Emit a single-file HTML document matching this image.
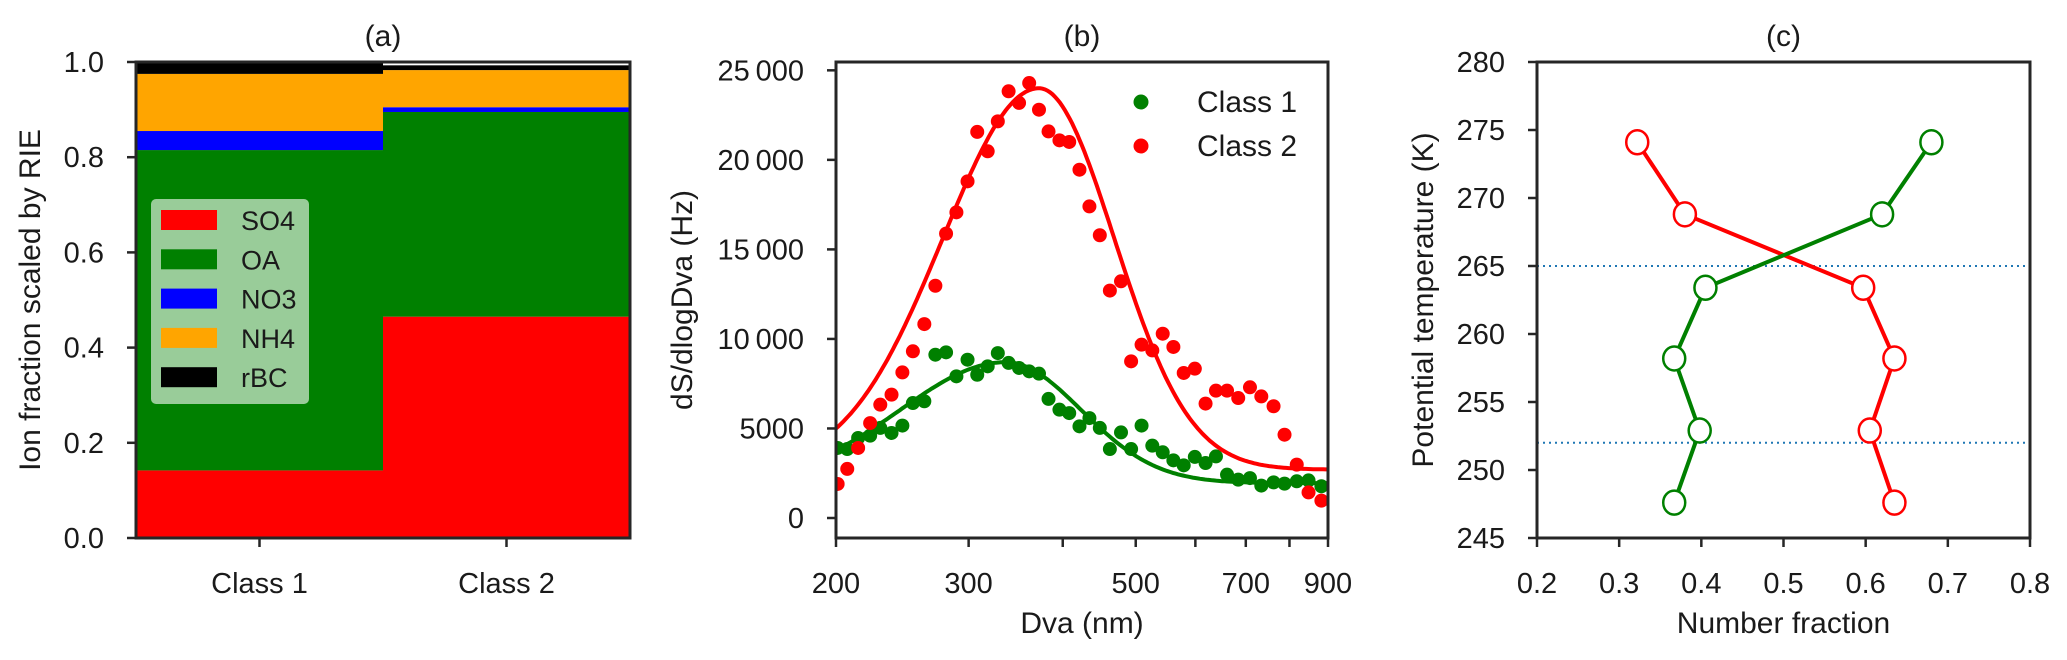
<!DOCTYPE html>
<html><head><meta charset="utf-8"><style>
html,body{margin:0;padding:0;background:#fff;}
svg{display:block;font-family:"Liberation Sans",sans-serif;}
</style></head><body>
<svg id="fig" width="2067" height="660" viewBox="0 0 2067 660" xmlns="http://www.w3.org/2000/svg">
<g id="pa"></g>
<g id="pb"></g>
<g id="pc"></g>
</svg>
<script>
// ---- Panel (a) data ----
const aClasses = ["Class 1", "Class 2"];
const aSpecies = ["SO4", "OA", "NO3", "NH4", "rBC"];
const aColors = ["#ff0000", "#008000", "#0000ff", "#ffa500", "#000000"];
const aSO4 = [0.142, 0.465];
const aOA = [0.673, 0.430];
const aNO3 = [0.040, 0.010];
const aNH4 = [0.120, 0.078];
const aRBC = [0.022, 0.010];
const aTicks = [0.0, 0.2, 0.4, 0.6, 0.8, 1.0];

// ---- Panel (b) data ----
const bDva = [201,207,214,222,229,237,245,253,262,271,280,289,299,308,318,328,339,350,361,372,383,396,408,421,434,448,462,478,493,509,526,543,561,579,599,619,639,661,684,709,734,762,788,818,848,882];
const bClass2 = [1900,2740,3910,5300,6330,6890,8130,9310,10830,12970,15880,17070,18800,21560,20480,22150,23830,23180,24290,22800,21590,21090,21000,19450,17400,15790,12700,13220,8750,9680,9360,10290,9550,8100,8340,6390,7110,7110,6700,7300,6790,6240,4650,2980,1430,970];
const bClass1 = [3910,3850,4470,4600,5030,4750,5160,6420,6520,9120,9250,7910,8840,8000,8470,9210,8660,8380,8190,8060,6650,6050,5860,5120,5580,5030,3850,4780,3850,5160,4040,3670,3220,2940,3410,3070,3440,2420,2140,2230,1810,1990,1920,2050,2100,1770];
// fitted log-normal-like curves: [peak amplitude, centre (nm), sigma left, sigma right, baseline]
const bFit2 = [21300, 372, 0.294, 0.23, 2700];
const bFit1 = [6750, 336, 0.322, 0.23, 1950];
const bYTicks = [0, 5000, 10000, 15000, 20000, 25000];
const bYTickLabels = ["0", "5000", "10\u2009000", "15\u2009000", "20\u2009000", "25\u2009000"];
const bXTicks = [200, 300, 400, 500, 600, 700, 800, 900];
const bXTickLabels = ["200", "300", "", "500", "", "700", "", "900"];

// ---- Panel (c) data ----
const cTheta = [274.1, 268.8, 263.4, 258.2, 252.9, 247.6];
const cRed = [0.322, 0.380, 0.597, 0.635, 0.605, 0.635];
const cGreen = [0.680, 0.620, 0.405, 0.367, 0.398, 0.367];
const cHLines = [265, 252];
const cXTicks = [0.2, 0.3, 0.4, 0.5, 0.6, 0.7, 0.8];
const cYTicks = [245, 250, 255, 260, 265, 270, 275, 280];

const NS = "http://www.w3.org/2000/svg";
function mk(parent, tag, attrs, text) {
  const e = document.createElementNS(NS, tag);
  for (const k in attrs) e.setAttribute(k, attrs[k]);
  if (text !== undefined) e.textContent = text;
  parent.appendChild(e);
  return e;
}
const AX = "#262626";
const FS = 29, TFS = 30;
const TICKY = 593, TITLEY = 633, HEADY = 46;

// ================= Panel A =================
(function(){
  const g = document.getElementById('pa');
  const L=136, R=630, T=62, B=538;
  const x = v => L + (v + 0.5) / 2 * (R - L);
  const y = v => B - v * (B - T);
  const stacks = [aSO4, aOA, aNO3, aNH4, aRBC];
  aClasses.forEach((c, i) => {
    let base = 0;
    stacks.forEach((arr, s) => {
      const r = mk(g, 'rect', {x: x(i - 0.5), y: y(base + arr[i]), width: x(i + 0.5) - x(i - 0.5), height: y(base) - y(base + arr[i]), fill: aColors[s]});
      
      
      base += arr[i];
    });
  });
  const fr = mk(g, 'rect', {x: L, y: T, width: R - L, height: B - T, fill: 'none', stroke: AX, 'stroke-width': 3});
  
  
  aTicks.forEach(t => {
    mk(g, 'line', {x1: L - 9, x2: L, y1: y(t), y2: y(t), stroke: AX, 'stroke-width': 2.5});
    const tx = mk(g, 'text', {x: 104, y: y(t) + 10, 'font-size': FS, 'text-anchor': 'end', fill: '#1a1a1a'}, t.toFixed(1));
    
    
  });
  aClasses.forEach((c, i) => {
    mk(g, 'line', {x1: x(i), x2: x(i), y1: B, y2: B + 9, stroke: AX, 'stroke-width': 2.5});
    const tx = mk(g, 'text', {x: x(i), y: TICKY, 'font-size': FS, 'text-anchor': 'middle', fill: '#1a1a1a'}, c);
    
    
  });
  const yl = mk(g, 'text', {x: 0, y: 0, transform: `translate(40,${(T + B) / 2}) rotate(-90)`, 'font-size': TFS, 'text-anchor': 'middle', fill: '#1a1a1a', 'xml:space': 'preserve'}, 'Ion  fraction scaled by RIE');
  
  
  const tt = mk(g, 'text', {x: (L + R) / 2, y: HEADY, 'font-size': TFS, 'text-anchor': 'middle', fill: '#1a1a1a'}, '(a)');
  
  
  const lg = mk(g, 'g', {});
  
  
  mk(lg, 'rect', {x: 151, y: 199, width: 158, height: 205, rx: 5, fill: '#99cc99'});
  aSpecies.forEach((s, k) => {
    const e = mk(lg, 'g', {});
    
    
    const yy = 210 + k * 39.3;
    mk(e, 'rect', {x: 161, y: yy, width: 56, height: 20, fill: aColors[k]});
    mk(e, 'text', {x: 241, y: yy + 20, 'font-size': 27, fill: '#1a1a1a'}, s);
  });
})();

// ================= Panel B =================
(function(){
  const g = document.getElementById('pb');
  const L=836, R=1328, T=62, B=538;
  const ymin = -1117, ymax = 25465;
  const x = v => L + Math.log(v / 200) / Math.log(900 / 200) * (R - L);
  const y = v => B - (v - ymin) / (ymax - ymin) * (B - T);
  const clip = mk(g, 'clipPath', {id: 'clipb'});
  mk(clip, 'rect', {x: L, y: T, width: R - L, height: B - T});
  const data = mk(g, 'g', {'clip-path': 'url(#clipb)'});
  function fitVal(p, d) {
    const l = Math.log(d / p[1]);
    const s = l < 0 ? p[2] : p[3];
    return p[4] + p[0] * Math.exp(-l * l / (2 * s * s));
  }
  function fitPath(p) {
    let dstr = '';
    for (let i = 0; i <= 200; i++) {
      const d = 200 * Math.pow(4.5, i / 200);
      dstr += (i ? 'L' : 'M') + x(d).toFixed(1) + ',' + y(fitVal(p, d)).toFixed(1);
    }
    return dstr;
  }
  bDva.forEach((d, i) => {
    const c = mk(data, 'circle', {cx: x(d), cy: y(bClass1[i]), r: 7, fill: '#008000'});
    
    
  });
  const f1 = mk(data, 'path', {d: fitPath(bFit1), fill: 'none', stroke: '#008000', 'stroke-width': 4});
  
  
  bDva.forEach((d, i) => {
    const c = mk(data, 'circle', {cx: x(d), cy: y(bClass2[i]), r: 7, fill: '#ff0000'});
    
    
  });
  const f2 = mk(data, 'path', {d: fitPath(bFit2), fill: 'none', stroke: '#ff0000', 'stroke-width': 4});
  
  
  const fr = mk(g, 'rect', {x: L, y: T, width: R - L, height: B - T, fill: 'none', stroke: AX, 'stroke-width': 3});
  
  
  bYTicks.forEach((t, i) => {
    mk(g, 'line', {x1: L - 9, x2: L, y1: y(t), y2: y(t), stroke: AX, 'stroke-width': 2.5});
    const tx = mk(g, 'text', {x: 804, y: y(t) + 10, 'font-size': FS, 'text-anchor': 'end', fill: '#1a1a1a'}, bYTickLabels[i]);
    
    
  });
  bXTicks.forEach((t, i) => {
    mk(g, 'line', {x1: x(t), x2: x(t), y1: B, y2: B + 9, stroke: AX, 'stroke-width': 2.5});
    if (bXTickLabels[i]) {
      const tx = mk(g, 'text', {x: x(t), y: TICKY, 'font-size': FS, 'text-anchor': 'middle', fill: '#1a1a1a'}, bXTickLabels[i]);
      
      
    }
  });
  const xl = mk(g, 'text', {x: (L + R) / 2, y: TITLEY, 'font-size': TFS, 'text-anchor': 'middle', fill: '#1a1a1a'}, 'Dva (nm)');
  
  
  const yl = mk(g, 'text', {x: 0, y: 0, transform: `translate(692,${(T + B) / 2}) rotate(-90)`, 'font-size': TFS, 'text-anchor': 'middle', fill: '#1a1a1a'}, 'dS/dlogDva (Hz)');
  
  
  const tt = mk(g, 'text', {x: (L + R) / 2, y: HEADY, 'font-size': TFS, 'text-anchor': 'middle', fill: '#1a1a1a'}, '(b)');
  
  
  const lg = mk(g, 'g', {});
  
  
  const e1 = mk(lg, 'g', {});
  
  
  mk(e1, 'circle', {cx: 1141, cy: 102, r: 7.5, fill: '#008000'});
  mk(e1, 'text', {x: 1197, y: 112, 'font-size': TFS, fill: '#1a1a1a'}, 'Class 1');
  const e2 = mk(lg, 'g', {});
  
  
  mk(e2, 'circle', {cx: 1141, cy: 146, r: 7.5, fill: '#ff0000'});
  mk(e2, 'text', {x: 1197, y: 156, 'font-size': TFS, fill: '#1a1a1a'}, 'Class 2');
})();

// ================= Panel C =================
(function(){
  const g = document.getElementById('pc');
  const L=1537, R=2030, T=62, B=538;
  const x = v => L + (v - 0.2) / 0.6 * (R - L);
  const y = v => B - (v - 245) / 35 * (B - T);
  cHLines.forEach(h => {
    const l = mk(g, 'line', {x1: L, x2: R, y1: y(h), y2: y(h), stroke: '#1f77b4', 'stroke-width': 2, 'stroke-dasharray': '2,4'});
    
    
  });
  function series(vals, color, name) {
    const pts = vals.map((v, i) => x(v).toFixed(1) + ',' + y(cTheta[i]).toFixed(1)).join(' ');
    const pl = mk(g, 'polyline', {points: pts, fill: 'none', stroke: color, 'stroke-width': 4});
    
    
    vals.forEach((v, i) => {
      const c = mk(g, 'ellipse', {cx: x(v), cy: y(cTheta[i]), rx: 11, ry: 12, fill: '#fff', stroke: color, 'stroke-width': 2.5});
      
      
    });
  }
  series(cRed, '#ff0000', 'class2');
  series(cGreen, '#008000', 'class1');
  const fr = mk(g, 'rect', {x: L, y: T, width: R - L, height: B - T, fill: 'none', stroke: AX, 'stroke-width': 3});
  
  
  cYTicks.forEach(t => {
    mk(g, 'line', {x1: L - 9, x2: L, y1: y(t), y2: y(t), stroke: AX, 'stroke-width': 2.5});
    const tx = mk(g, 'text', {x: 1505, y: y(t) + 10, 'font-size': FS, 'text-anchor': 'end', fill: '#1a1a1a'}, String(t));
    
    
  });
  cXTicks.forEach(t => {
    mk(g, 'line', {x1: x(t), x2: x(t), y1: B, y2: B + 9, stroke: AX, 'stroke-width': 2.5});
    const tx = mk(g, 'text', {x: x(t), y: TICKY, 'font-size': FS, 'text-anchor': 'middle', fill: '#1a1a1a'}, t.toFixed(1));
    
    
  });
  const xl = mk(g, 'text', {x: (L + R) / 2, y: TITLEY, 'font-size': TFS, 'text-anchor': 'middle', fill: '#1a1a1a'}, 'Number fraction');
  
  
  const yl = mk(g, 'text', {x: 0, y: 0, transform: `translate(1433,${(T + B) / 2}) rotate(-90)`, 'font-size': TFS, 'text-anchor': 'middle', fill: '#1a1a1a', 'xml:space': 'preserve'}, 'Potential  temperature (K)');
  
  
  const tt = mk(g, 'text', {x: (L + R) / 2, y: HEADY, 'font-size': TFS, 'text-anchor': 'middle', fill: '#1a1a1a'}, '(c)');
  
  
})();
</script>
</body></html>
